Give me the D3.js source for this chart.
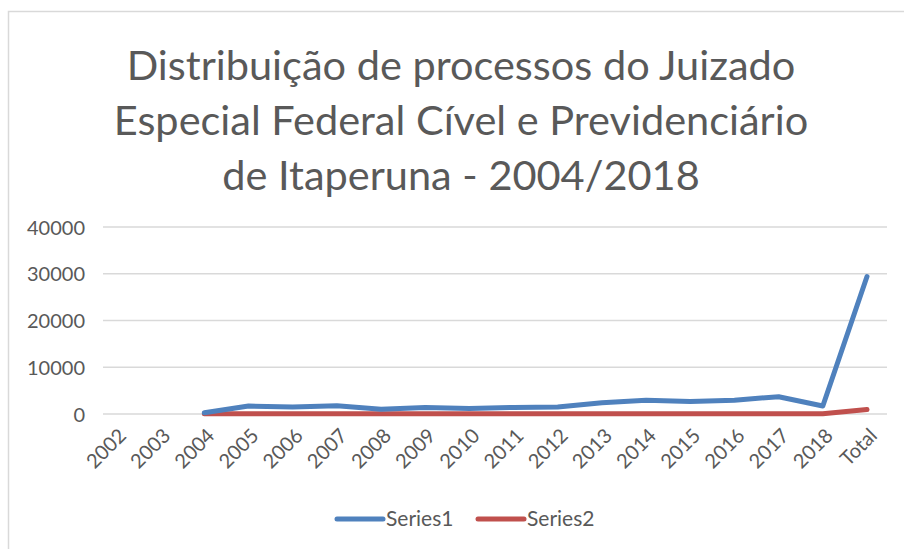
<!DOCTYPE html>
<html>
<head>
<meta charset="utf-8">
<script src="https://cdn.jsdelivr.net/npm/d3@7"></script>
<style>
  body { margin: 0; background: #fff; }
  text { font-family: Lato, "Open Sans", sans-serif; fill: #595959; }
</style>
</head>
<body>
<svg width="904" height="549"></svg>
<script>
var svg = d3.select("svg"),
    width = +svg.attr("width"),
    height = +svg.attr("height");

// data
var categories = ["2002", "2003", "2004", "2005", "2006", "2007", "2008", "2009", "2010",
                  "2011", "2012", "2013", "2014", "2015", "2016", "2017", "2018", "Total"];
var series1 = [null, null, 250, 1700, 1500, 1750, 1000, 1400, 1200, 1400, 1500, 2400, 2950, 2650, 2950, 3700, 1700, 29400];
var series2 = [null, null, 60, 60, 60, 70, 60, 60, 60, 60, 60, 60, 60, 60, 60, 60, 60, 950];
var yTicks = [0, 10000, 20000, 30000, 40000];
var titleLines = ["Distribuição de processos do Juizado",
                  "Especial Federal Cível e Previdenciário",
                  "de Itaperuna - 2004/2018"];
var seriesNames = ["Series1", "Series2"];
var colors = ["#4f81bd", "#c0504d"];

// chart border
svg.append("rect")
    .attr("x", 8.5).attr("y", 11.5)
    .attr("width", 920).attr("height", 560)
    .attr("fill", "#fff")
    .attr("stroke", "#d9d9d9")
    .attr("stroke-width", 1.5);

// title
svg.append("g").selectAll("text")
    .data(titleLines)
    .enter().append("text")
      .attr("x", 461)
      .attr("y", function(d, i) { return 80 + i * 55; })
      .attr("text-anchor", "middle")
      .attr("font-size", "41.5px")
      .text(function(d) { return d; });

var x = d3.scalePoint()
    .domain(categories)
    .range([116, 867]);

var y = d3.scaleLinear()
    .domain([0, 40000])
    .range([414, 227]);

// gridlines
svg.append("g")
    .selectAll("line")
    .data(yTicks)
    .enter().append("line")
      .attr("x1", 103).attr("x2", 887)
      .attr("y1", function(d) { return y(d); })
      .attr("y2", function(d) { return y(d); })
      .attr("stroke", "#d9d9d9")
      .attr("stroke-width", 1.5);

// y axis
var yAxis = svg.append("g")
    .attr("transform", "translate(89,0)")
    .call(d3.axisLeft(y).tickValues(yTicks).tickFormat(d3.format("d")).tickSize(0).tickPadding(4));
yAxis.select(".domain").remove();
yAxis.attr("font-family", null).attr("font-size", null);
yAxis.selectAll("text")
    .attr("font-size", "20px")
    .attr("dy", "0.35em");

// x axis
var xAxis = svg.append("g")
    .attr("transform", "translate(0,414)")
    .call(d3.axisBottom(x).tickSize(0));
xAxis.select(".domain").remove();
xAxis.attr("font-family", null).attr("font-size", null);
xAxis.selectAll("text")
    .attr("font-size", "20px")
    .attr("text-anchor", "end")
    .attr("dy", "0.35em")
    .attr("y", 0)
    .attr("transform", "translate(6,18) rotate(-45)");

// lines
var line = d3.line()
    .defined(function(d) { return d.v != null; })
    .x(function(d) { return x(d.c); })
    .y(function(d) { return y(d.v); });

[series2, series1].forEach(function(s, k) {
  var idx = 1 - k;
  svg.append("path")
      .datum(categories.map(function(c, i) { return { c: c, v: s[i] }; }))
      .attr("fill", "none")
      .attr("stroke", colors[idx])
      .attr("stroke-width", 5)
      .attr("stroke-linejoin", "round")
      .attr("stroke-linecap", "round")
      .attr("d", line);
});

// legend
var legendX = [335, 476];
var lg = svg.append("g").selectAll("g")
    .data(seriesNames)
    .enter().append("g")
      .attr("transform", function(d, i) { return "translate(" + legendX[i] + ",519)"; });
lg.append("line")
    .attr("x1", 2).attr("x2", 48)
    .attr("stroke", function(d, i) { return colors[i]; })
    .attr("stroke-width", 5)
    .attr("stroke-linecap", "round");
lg.append("text")
    .attr("x", 51)
    .attr("dy", "0.35em")
    .attr("font-size", "21px")
    .text(function(d) { return d; });
</script>
</body>
</html>
